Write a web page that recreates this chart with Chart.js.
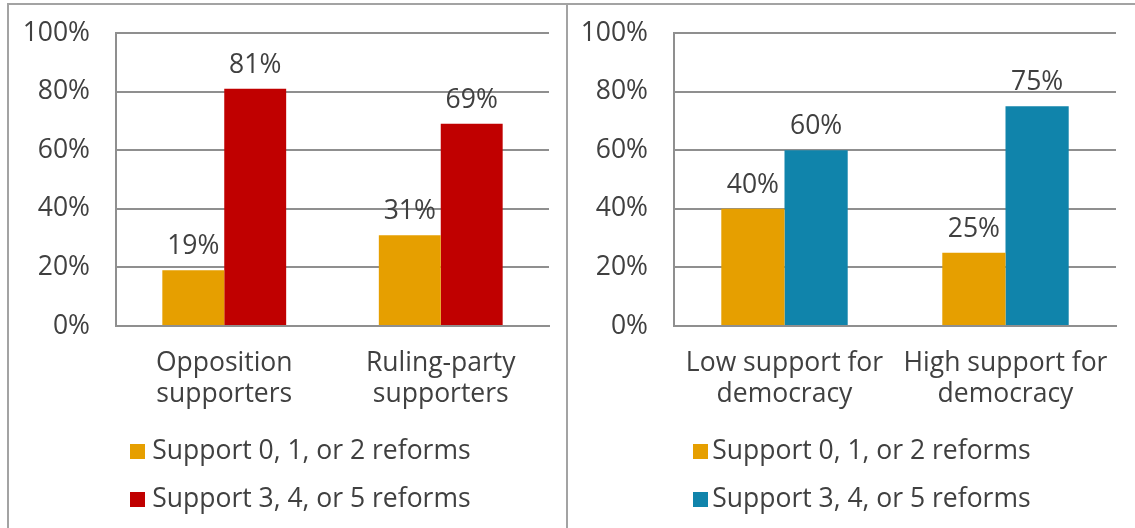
<!DOCTYPE html>
<html>
<head>
<meta charset="utf-8">
<script src="https://cdn.jsdelivr.net/npm/chart.js@4/dist/chart.umd.min.js"></script>
<style>
  html, body { margin: 0; padding: 0; background: #ffffff; }
  body { width: 1135px; height: 528px; position: relative; overflow: hidden; }
  .frame-top { position: absolute; left: 7px; top: 3px; width: 1128px; height: 2px; background: #a3a3a3; }
  .frame-left { position: absolute; left: 7px; top: 3px; width: 2px; height: 525px; background: #a3a3a3; }
  .frame-mid { position: absolute; left: 566px; top: 3px; width: 2px; height: 525px; background: #a3a3a3; }
  .panel { position: absolute; top: 6px; height: 522px; }
  #left { left: 10px; width: 556px; }
  #right { left: 569px; width: 566px; }
</style>
</head>
<body>
<div class="frame-top"></div>
<div class="frame-left"></div>
<div class="frame-mid"></div>
<div class="panel" id="left"><canvas id="cLeft" width="556" height="522"></canvas></div>
<div class="panel" id="right"><canvas id="cRight" width="566" height="522"></canvas></div>

<script>
// Share of respondents by number of reforms supported
const partyGroups = [["Opposition", "supporters"], ["Ruling-party", "supporters"]];
const democracyGroups = [["Low support for", "democracy"], ["High support for", "democracy"]];
const seriesNames = ["Support 0, 1, or 2 reforms", "Support 3, 4, or 5 reforms"];
const partyLow = [19, 31];
const partyHigh = [81, 69];
const democracyLow = [40, 25];
const democracyHigh = [60, 75];
const yTickValues = [0, 20, 40, 60, 80, 100];

const ORANGE = "#E69F00";
const RED = "#C00000";
const BLUE = "#1084AB";
const TEXT = "#404040";
const GRID = "#8f8f8f";
const FONT_FAMILY = '"Open Sans", "DejaVu Sans", sans-serif';
const FONT_SIZE = 26.5;

// Legend swatch: 15px square placed inside a 41px wide transparent image
function swatch(color, squareX) {
  const c = document.createElement("canvas");
  c.width = 41; c.height = 15;
  const g = c.getContext("2d");
  g.fillStyle = color;
  g.fillRect(squareX, 0, 15, 15);
  return c;
}

// Value labels above each bar
const barValueLabels = {
  id: "barValueLabels",
  afterDatasetsDraw(chart) {
    const ctx = chart.ctx;
    ctx.save();
    ctx.font = FONT_SIZE + "px " + FONT_FAMILY;
    ctx.fillStyle = TEXT;
    ctx.textAlign = "center";
    ctx.textBaseline = "alphabetic";
    chart.data.datasets.forEach((ds, di) => {
      chart.getDatasetMeta(di).data.forEach((bar, i) => {
        ctx.fillText(ds.data[i] + "%", bar.x, bar.y - 16);
      });
    });
    ctx.restore();
  }
};

function makeChart(canvasId, labels, lowVals, highVals, highColor, pad, yAxisWidth, legendBox, squareX) {
  const swatches = [swatch(ORANGE, squareX), swatch(highColor, squareX)];
  return new Chart(document.getElementById(canvasId), {
    type: "bar",
    data: {
      labels: labels,
      datasets: [
        { label: seriesNames[0], data: lowVals, backgroundColor: ORANGE, borderWidth: 0 },
        { label: seriesNames[1], data: highVals, backgroundColor: highColor, borderWidth: 0 }
      ]
    },
    options: {
      responsive: false,
      animation: false,
      events: [],
      layout: { padding: pad },
      datasets: { bar: { categoryPercentage: 0.572, barPercentage: 1.0 } },
      scales: {
        x: {
          grid: { display: false, drawTicks: false },
          border: { display: true, color: GRID, width: 2 },
          ticks: {
            color: TEXT,
            padding: 22,
            maxRotation: 0,
            autoSkip: false,
            font: { family: FONT_FAMILY, size: FONT_SIZE, lineHeight: 1.17 }
          },
          afterFit(scale) { scale.height = 90; }
        },
        y: {
          min: 0,
          max: 100,
          afterBuildTicks(scale) { scale.ticks = yTickValues.map(v => ({ value: v })); },
          grid: { color: GRID, lineWidth: 2, drawTicks: true, tickLength: 26, tickColor: "rgba(0,0,0,0)" },
          border: { display: true, color: GRID, width: 2 },
          ticks: {
            color: TEXT,
            padding: 0,
            font: { family: FONT_FAMILY, size: FONT_SIZE },
            callback: v => v + "%"
          },
          afterFit(scale) { scale.width = yAxisWidth; }
        }
      },
      plugins: {
        tooltip: { enabled: false },
        legend: {
          position: "bottom",
          align: "start",
          fullSize: false,
          labels: {
            color: TEXT,
            font: { family: FONT_FAMILY, size: FONT_SIZE },
            usePointStyle: true,
            boxWidth: legendBox,
            padding: 22,
            generateLabels(chart) {
              const items = Chart.defaults.plugins.legend.labels.generateLabels(chart);
              items.forEach((it, i) => { it.pointStyle = swatches[i]; it.rotation = 0; });
              return items;
            }
          }
        }
      }
    },
    plugins: [barValueLabels]
  });
}

function draw() {
  makeChart("cLeft", partyGroups, partyLow, partyHigh, RED,
    { left: 0, right: 17, top: 27, bottom: 5 }, 106, 1, 12);
  makeChart("cRight", democracyGroups, democracyLow, democracyHigh, BLUE,
    { left: 0, right: 19, top: 27, bottom: 5 }, 105, 3, 16);
}

if (document.fonts && document.fonts.load) {
  document.fonts.load(FONT_SIZE + 'px "Open Sans"').then(draw, draw);
} else {
  draw();
}
</script>
</body>
</html>
